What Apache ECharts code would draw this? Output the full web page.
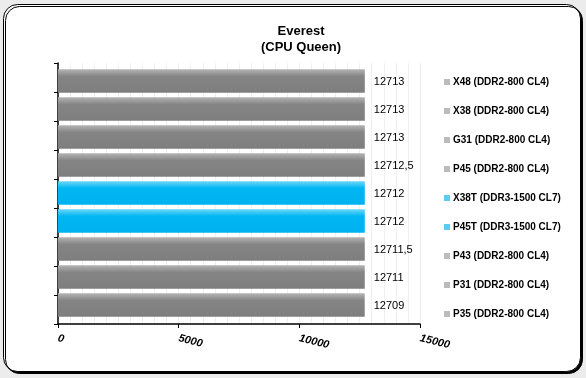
<!DOCTYPE html>
<html>
<head>
<meta charset="utf-8">
<script src="https://cdn.jsdelivr.net/npm/echarts@6/dist/echarts.min.js"></script>
<style>
  html, body { margin: 0; padding: 0; background: #ececec; }
  #chart { width: 586px; height: 378px; }
</style>
</head>
<body>
<div id="chart"></div>
<script>
var categories = ['X48 (DDR2-800 CL4)', 'X38 (DDR2-800 CL4)', 'G31 (DDR2-800 CL4)', 'P45 (DDR2-800 CL4)',
  'X38T (DDR3-1500 CL7)', 'P45T (DDR3-1500 CL7)', 'P43 (DDR2-800 CL4)', 'P31 (DDR2-800 CL4)', 'P35 (DDR2-800 CL4)'];
var values = [12713, 12713, 12713, 12712.5, 12712, 12712, 12711.5, 12711, 12709];
var isDdr3 = [false, false, false, false, true, true, false, false, false];
var xTicks = [0, 5000, 10000, 15000];

var grayFill = new echarts.graphic.LinearGradient(0, 0, 0, 1, [
  { offset: 0, color: '#b4b4b4' }, { offset: 0.3, color: '#858585' }, { offset: 1, color: '#7e7e7e' }
]);
var blueFill = new echarts.graphic.LinearGradient(0, 0, 0, 1, [
  { offset: 0, color: '#6cd6fa' }, { offset: 0.3, color: '#00b6f2' }, { offset: 1, color: '#00b2f0' }
]);

// one series per machine so each gets its own legend entry
var series = categories.map(function (name, i) {
  var data = categories.map(function (c, j) { return j === i ? values[i] : '-'; });
  return {
    name: name,
    type: 'bar',
    stack: 'all',
    xAxisIndex: 0,
    yAxisIndex: 0,
    data: data,
    barCategoryGap: '16%',
    itemStyle: { color: isDdr3[i] ? blueFill : grayFill },
    label: {
      show: true,
      position: 'right',
      distance: 9,
      offset: [0, 1],
      color: '#000',
      fontFamily: 'Liberation Sans, Arial',
      fontSize: 11,
      formatter: function (p) { return String(p.value).replace('.', ','); }
    }
  };
});

var chart = echarts.init(document.getElementById('chart'));
chart.setOption({
  animation: false,
  backgroundColor: '#ececec',
  graphic: [{
    type: 'rect',
    z: -10,
    shape: { x: 3.5, y: 4.5, width: 577, height: 367, r: 14 },
    style: { fill: '#fff', stroke: '#000', lineWidth: 1,
      shadowColor: '#000', shadowOffsetX: 2, shadowOffsetY: 2, shadowBlur: 0 }
  }],
  title: {
    text: 'Everest\n(CPU Queen)',
    left: 296,
    textAlign: 'center',
    top: 18,
    textStyle: { fontFamily: 'Liberation Sans, Arial', fontSize: 13, fontWeight: 'bold', lineHeight: 16, color: '#000' }
  },
  legend: {
    orient: 'vertical',
    left: 439,
    top: 71,
    itemWidth: 6,
    itemHeight: 6,
    itemGap: 17,
    selectedMode: false,
    icon: 'rect',
    data: categories.map(function (c, i) {
      return { name: c, itemStyle: { color: isDdr3[i] ? '#5ccbf2' : '#bbbbbb' } };
    }),
    textStyle: { fontFamily: 'Liberation Sans, Arial', fontSize: 10, fontWeight: 'bold', color: '#000', lineHeight: 12, padding: [0, 0, 0, -2] }
  },
  grid: [
    { left: 58, right: 166, top: 67, bottom: 59 },
    { left: 58, right: 166, top: 63, bottom: 54 }
  ],
  xAxis: [{
    gridIndex: 0,
    type: 'value',
    min: 0,
    max: 15000,
    show: false
  }, {
    gridIndex: 1,
    type: 'value',
    min: 0,
    max: 15000,
    interval: 5000,
    axisLine: { show: true, lineStyle: { color: '#000', width: 1.5 } },
    axisTick: { show: true, length: 4, lineStyle: { color: '#000' } },
    splitLine: { show: true, lineStyle: { color: '#f0f0f0' } },
    minorTick: { show: false, splitNumber: 10 },
    minorSplitLine: { show: true, lineStyle: { color: '#f0f0f0' } },
    axisLabel: {
      rotate: -14,
      margin: 14,
      color: '#000',
      fontFamily: 'Liberation Sans, Arial',
      fontSize: 11,
      fontWeight: 'bold',
      fontStyle: 'italic',
      formatter: function (v) { return xTicks.indexOf(v) >= 0 ? String(v) : ''; }
    }
  }],
  yAxis: [{
    gridIndex: 0,
    type: 'category',
    data: categories,
    inverse: true,
    show: false
  }, {
    gridIndex: 1,
    type: 'category',
    data: categories,
    inverse: true,
    axisLine: { show: true, lineStyle: { color: '#000', width: 1.5 } },
    axisTick: { show: true, length: 4, lineStyle: { color: '#000' } },
    axisLabel: { show: false }
  }],
  series: series
});
</script>
</body>
</html>
